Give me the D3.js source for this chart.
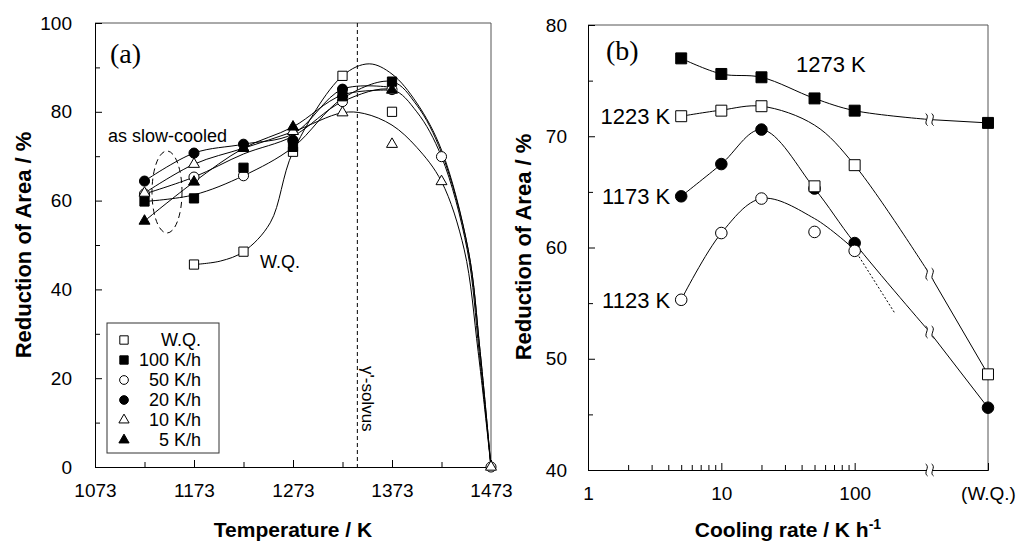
<!DOCTYPE html>
<meta charset="utf-8">
<script src="https://d3js.org/d3.v7.min.js"></script>
<style>
body { margin: 0; background: #fff; }
text { font-family: Arial, "Liberation Sans", sans-serif; fill: #000; }
</style>
<div id="chart"></div>
<script>
// ---- panel (a): reduction of area vs. test temperature ----
var tempsA = [1123, 1173, 1223, 1273, 1323, 1373, 1423, 1473];
var raWQ  = [null, 45.6, 48.5, 71.0, 88.1, 80.0, null, null];
var ra100 = [59.8, 60.5, 67.4, 72.1, 83.5, 86.8, null, null];
var ra50  = [61.5, 65.3, 65.6, 73.4, 82.3, 85.0, 69.9, 0];
var ra20  = [64.4, 70.7, 72.7, 73.6, 85.1, null, null, null];
var ra10  = [61.7, 68.2, 71.8, 75.6, 79.8, 72.7, 64.3, 0];
var ra5   = [55.4, 64.2, 71.8, 76.6, 84.0, 84.9, null, null];

// hand-drawn fit curves of panel (a) as [K, %]
var fitWQ  = [[1173,45.6],[1200,46.4],[1223,48.5],[1250,55],[1273,71],[1323,88.1],[1350,90.8],[1373,88.5],[1398,82],[1423,71.4],[1450,48.9],[1462,26],[1473,0]];
var fit100 = [[1123,59.8],[1173,61.3],[1223,65.6],[1273,72],[1323,83],[1373,86.8],[1398,81.5],[1423,70.8],[1450,48.9],[1462,26],[1473,0]];
var fit50  = [[1123,61.5],[1173,65.3],[1223,70.5],[1273,74.5],[1323,82.3],[1373,85],[1398,80],[1423,69.9],[1449,48.9],[1461,26],[1473,0]];
var fit20  = [[1123,64.4],[1173,70.7],[1223,72.7],[1273,75],[1323,85.1],[1373,85.5]];
var fit10  = [[1123,61.7],[1173,68.2],[1223,71.8],[1273,75.5],[1323,79.8],[1345,79.6],[1373,77],[1398,72],[1423,64.3],[1446,48.9],[1460,26],[1473,0]];
var fit5   = [[1123,55.4],[1173,64.2],[1223,71.8],[1273,76.6],[1323,83.8],[1373,84.9]];

var legendLabels = ["W.Q.", "100 K/h", "50 K/h", "20 K/h", "10 K/h", "5 K/h"];
var solvusTemp = 1338;

// ---- panel (b): reduction of area vs. cooling rate ----
var ratesB = [5, 10, 20, 50, 100, 1000];   // 1000 = water quench column
var b1273 = [77.0, 75.6, 75.3, 73.4, 72.3, 71.2];
var b1223 = [71.8, 72.3, 72.7, 65.5, 67.4, 48.6];
var b1173 = [64.6, 67.5, 70.6, 65.3, 60.4, 45.6];
var b1123 = [55.3, 61.3, 64.4, 61.4, 59.7, null];

var breakRate = 365;
var c1273 = [[5,77],[10,75.6],[20,75.3],[50,73.4],[100,72.3],[365,71.5]];
var c1273q = [[365,71.5],[1000,71.2]];
var c1223 = [[5,71.8],[10,72.35],[20,72.7],[50,71],[100,67.4],[365,57.6]];
var c1223q = [[365,57.6],[1000,48.6]];
var c1173 = [[5,64.6],[10,67.5],[20,70.6],[50,65.3],[100,60.4],[365,52.4]];
var c1173q = [[365,52.4],[1000,45.6]];
var c1123 = [[5,55.3],[10,61.3],[20,64.4],[50,62.6],[100,59.8]];
var c1123dot = [[100,59.8],[200,54.1]];

var svg = d3.select("#chart").append("svg")
  .attr("width", 1016).attr("height", 544);

function marker(kind, size) {
  var t = kind.indexOf("sq") == 0 ? d3.symbolSquare : kind.indexOf("ci") == 0 ? d3.symbolCircle : d3.symbolTriangle;
  return d3.symbol().type(t).size(size)();
}
function fillOf(kind) { return kind.slice(-1) == "F" ? "#000" : "#fff"; }

// ================= panel (a) =================
var xA = d3.scaleLinear().domain([1073, 1473]).range([95, 491]);
var yA = d3.scaleLinear().domain([0, 100]).range([467, 23]);
var gA = svg.append("g");

gA.append("line").attr("x1", xA(1073)).attr("x2", xA(1473)).attr("y1", yA(100)).attr("y2", yA(100)).attr("stroke", "#555");
gA.append("line").attr("x1", xA(1473)).attr("x2", xA(1473)).attr("y1", yA(100)).attr("y2", yA(0)).attr("stroke", "#555");

gA.append("g").attr("transform", "translate(0," + yA(0) + ")")
  .call(d3.axisBottom(xA).tickValues([1073, 1173, 1273, 1373, 1473]).tickSize(-7).tickPadding(17).tickFormat(d3.format("d")));
gA.append("g").attr("transform", "translate(0," + yA(0) + ")")
  .call(d3.axisBottom(xA).tickValues([1123, 1223, 1323, 1423]).tickSize(-5).tickFormat(""))
  .select(".domain").remove();
gA.append("g").attr("transform", "translate(" + xA(1073) + ",0)")
  .call(d3.axisLeft(yA).tickValues([0, 20, 40, 60, 80, 100]).tickSize(-7).tickPadding(23));
gA.append("g").attr("transform", "translate(" + xA(1073) + ",0)")
  .call(d3.axisLeft(yA).tickValues([10, 30, 50, 70, 90]).tickSize(-5).tickFormat(""))
  .select(".domain").remove();
gA.selectAll(".tick text").style("font-size", "19px");
gA.selectAll(".domain, .tick line").attr("stroke", "#000");

// solvus line
gA.append("line").attr("x1", xA(solvusTemp)).attr("x2", xA(solvusTemp))
  .attr("y1", yA(100)).attr("y2", yA(0))
  .attr("stroke", "#000").attr("stroke-dasharray", "4,3");
gA.append("text").attr("transform", "translate(" + (xA(solvusTemp) + 5) + ",366) rotate(90)")
  .style("font-size", "17px").text("\u03B3'-solvus");

var lineA = d3.line().x(function(d){ return xA(d[0]); }).y(function(d){ return yA(d[1]); })
  .curve(d3.curveCatmullRom.alpha(0.5));
[fitWQ, fit100, fit50, fit20, fit10, fit5].forEach(function(f){
  gA.append("path").attr("d", lineA(f)).attr("fill", "none").attr("stroke", "#000").attr("stroke-width", 1);
});

var seriesA = [
  {v: raWQ, k: "sqO"}, {v: ra50, k: "ciO"}, {v: ra10, k: "trO"},
  {v: ra20, k: "ciF"}, {v: ra5, k: "trF"}, {v: ra100, k: "sqF"}
];
var sizeA = {sq: 85, ci: 80, tr: 52};
seriesA.forEach(function(s){
  var pts = tempsA.map(function(t, i){ return [t, s.v[i]]; }).filter(function(p){ return p[1] != null; });
  gA.selectAll(null).data(pts).enter().append("path")
    .attr("d", marker(s.k, sizeA[s.k.slice(0, 2)]))
    .attr("transform", function(d){ return "translate(" + xA(d[0]) + "," + yA(d[1]) + ")"; })
    .attr("fill", fillOf(s.k)).attr("stroke", "#000").attr("stroke-width", 1);
});

// as slow-cooled
gA.append("ellipse").attr("cx", 167).attr("cy", 192).attr("rx", 15).attr("ry", 41)
  .attr("fill", "none").attr("stroke", "#000").attr("stroke-dasharray", "6,4");
gA.append("text").attr("x", 108).attr("y", 142).style("font-size", "18px").text("as slow-cooled");
gA.append("text").attr("x", 260).attr("y", 268).style("font-size", "18px").text("W.Q.");
gA.append("text").attr("x", 110).attr("y", 63)
  .style("font-family", "'Times New Roman','Liberation Serif',serif").style("font-size", "28px").text("(a)");

// legend
var leg = gA.append("g");
leg.append("rect").attr("x", 107).attr("y", 323).attr("width", 112).attr("height", 130)
  .attr("fill", "#fff").attr("stroke", "#333");
var legKinds = ["sqO", "sqF", "ciO", "ciF", "trO", "trF"];
legendLabels.forEach(function(l, i){
  var y = 340 + i * 20;
  leg.append("path").attr("d", marker(legKinds[i], {sq: 70, ci: 60, tr: 45}[legKinds[i].slice(0, 2)]))
    .attr("transform", "translate(124," + y + ")")
    .attr("fill", fillOf(legKinds[i])).attr("stroke", "#000");
  leg.append("text").attr("x", 201).attr("y", y + 6).attr("text-anchor", "end")
    .style("font-size", "18px").text(l);
});

gA.append("text").attr("x", 293).attr("y", 537).attr("text-anchor", "middle")
  .style("font-size", "21px").style("font-weight", "bold").text("Temperature / K");
gA.append("text").attr("transform", "translate(31,245) rotate(-90)").attr("text-anchor", "middle")
  .style("font-size", "22px").style("font-weight", "bold").text("Reduction of Area / %");

// ================= panel (b) =================
var xB = d3.scaleLog().domain([1, 1000]).range([588, 988]);
var yB = d3.scaleLinear().domain([40, 80]).range([470, 25]);
var gB = svg.append("g");

gB.append("line").attr("x1", xB(1)).attr("x2", xB(1000)).attr("y1", yB(80)).attr("y2", yB(80)).attr("stroke", "#555");
gB.append("line").attr("x1", xB(1000)).attr("x2", xB(1000)).attr("y1", yB(80)).attr("y2", yB(40)).attr("stroke", "#555");

var minorB = [2,3,4,5,6,7,8,9,20,30,40,50,60,70,80,90];
gB.append("g").attr("transform", "translate(0," + yB(40) + ")")
  .call(d3.axisBottom(xB).tickValues([1, 10, 100, 1000]).tickSize(-7).tickPadding(17)
    .tickFormat(function(d){ return d == 1000 ? "(W.Q.)" : d3.format("d")(d); }));
gB.append("g").attr("transform", "translate(0," + yB(40) + ")")
  .call(d3.axisBottom(xB).tickValues(minorB).tickSize(-5).tickFormat(""))
  .select(".domain").remove();
gB.append("g").attr("transform", "translate(" + xB(1) + ",0)")
  .call(d3.axisLeft(yB).tickValues([40, 50, 60, 70, 80]).tickSize(-7).tickPadding(21));
gB.append("g").attr("transform", "translate(" + xB(1) + ",0)")
  .call(d3.axisLeft(yB).tickValues([45, 55, 65, 75]).tickSize(-5).tickFormat(""))
  .select(".domain").remove();
gB.selectAll(".tick text").style("font-size", "19px");
gB.selectAll(".domain, .tick line").attr("stroke", "#000");

var lineB = d3.line().x(function(d){ return xB(d[0]); }).y(function(d){ return yB(d[1]); })
  .curve(d3.curveCatmullRom.alpha(0.5));
[c1273, c1273q, c1223, c1223q, c1173, c1173q, c1123].forEach(function(c){
  gB.append("path").attr("d", lineB(c)).attr("fill", "none").attr("stroke", "#000");
});
gB.append("path").attr("d", lineB(c1123dot)).attr("fill", "none").attr("stroke", "#000")
  .attr("stroke-dasharray", "2,2");

function breakMark(cx, cy) {
  gB.append("rect").attr("x", cx - 3).attr("y", cy - 6).attr("width", 6).attr("height", 12).attr("fill", "#fff");
  [-3, 3].forEach(function(o){
    var x = cx + o;
    gB.append("path")
      .attr("d", "M" + (x - 1) + "," + (cy - 6) + " C" + (x + 4) + "," + (cy - 3) + " " + (x - 4) + "," + (cy + 3) + " " + (x + 1) + "," + (cy + 6))
      .attr("fill", "none").attr("stroke", "#000");
  });
}
breakMark(xB(breakRate), yB(40));
breakMark(xB(breakRate), yB(c1273[c1273.length - 1][1]));
breakMark(xB(breakRate), yB(c1223[c1223.length - 1][1]));
breakMark(xB(breakRate), yB(c1173[c1173.length - 1][1]));

var seriesB = [
  {v: b1223, k: "sqO", name: "1223 K"}, {v: b1173, k: "ciF", name: "1173 K"},
  {v: b1123, k: "ciO", name: "1123 K"}, {v: b1273, k: "sqF", name: "1273 K"}
];
var drawOrder = [seriesB[1], seriesB[2], seriesB[0], seriesB[3]];
drawOrder.forEach(function(s){
  var pts = ratesB.map(function(r, i){ return [r, s.v[i]]; }).filter(function(p){ return p[1] != null; });
  gB.selectAll(null).data(pts).enter().append("path")
    .attr("d", marker(s.k, s.k.indexOf("sq") == 0 ? 120 : 105))
    .attr("transform", function(d){ return "translate(" + xB(d[0]) + "," + yB(d[1]) + ")"; })
    .attr("fill", fillOf(s.k)).attr("stroke", "#000");
});

// series labels
[seriesB[0], seriesB[1], seriesB[2]].forEach(function(s){
  gB.append("text").attr("x", xB(ratesB[0]) - 11).attr("y", yB(s.v[0]) + 8).attr("text-anchor", "end")
    .style("font-size", "22px").text(s.name);
});
gB.append("text").attr("x", 796).attr("y", 72).style("font-size", "22px").text("1273 K");

gB.append("text").attr("x", 606).attr("y", 60)
  .style("font-family", "'Times New Roman','Liberation Serif',serif").style("font-size", "28px").text("(b)");

var tB = gB.append("text").attr("x", 788).attr("y", 537).attr("text-anchor", "middle")
  .style("font-size", "21px").style("font-weight", "bold");
tB.append("tspan").text("Cooling rate / K h");
tB.append("tspan").attr("dy", -8).style("font-size", "14px").text("-1");
gB.append("text").attr("transform", "translate(531,247) rotate(-90)").attr("text-anchor", "middle")
  .style("font-size", "22px").style("font-weight", "bold").text("Reduction of Area / %");
</script>
